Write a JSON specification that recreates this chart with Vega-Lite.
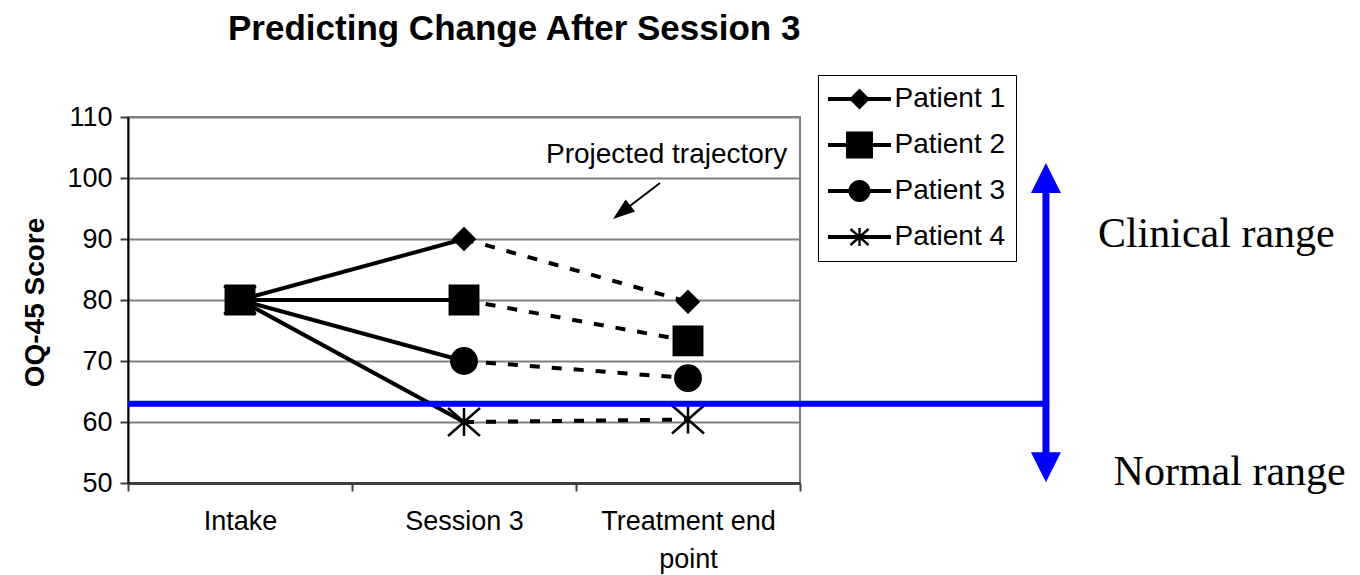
{
  "$schema": "https://vega.github.io/schema/vega-lite/v6.json",
  "width": 672,
  "height": 366,
  "autosize": {"type": "none"},
  "padding": {"left": 128, "top": 117, "right": 560, "bottom": 92},
  "background": "white",
  "title": {
    "text": "Predicting Change After Session 3",
    "anchor": "start",
    "frame": "group",
    "dx": 100,
    "offset": 0,
    "baseline": "alphabetic",
    "font": "Liberation Sans",
    "fontSize": 35,
    "fontWeight": "bold",
    "color": "black"
  },
  "config": {
    "font": "Liberation Sans",
    "view": {"stroke": "#808080", "strokeWidth": 2},
    "axis": {
      "labelFont": "Liberation Sans",
      "labelFontSize": 27,
      "labelColor": "black",
      "titleFont": "Liberation Sans",
      "titleFontSize": 28,
      "titleFontWeight": "bold",
      "titleColor": "black",
      "tickSize": 8,
      "tickColor": "#404040",
      "tickWidth": 2,
      "domainWidth": 2
    }
  },
  "resolve": {"scale": {"x": "independent"}},
  "layer": [
    {
      "data": {
        "values": [
          {"patient": "Patient 1", "time": "Intake", "score": 80},
          {"patient": "Patient 1", "time": "Session 3", "score": 90},
          {"patient": "Patient 1", "time": "Treatment end point", "score": 79.7},
          {"patient": "Patient 2", "time": "Intake", "score": 80},
          {"patient": "Patient 2", "time": "Session 3", "score": 80},
          {"patient": "Patient 2", "time": "Treatment end point", "score": 73.3},
          {"patient": "Patient 3", "time": "Intake", "score": 80},
          {"patient": "Patient 3", "time": "Session 3", "score": 70},
          {"patient": "Patient 3", "time": "Treatment end point", "score": 67.2},
          {"patient": "Patient 4", "time": "Intake", "score": 80},
          {"patient": "Patient 4", "time": "Session 3", "score": 60},
          {"patient": "Patient 4", "time": "Treatment end point", "score": 60.4}
        ]
      },
      "resolve": {"scale": {"shape": "independent"}},
      "layer": [
        {
          "transform": [{"filter": "datum.time !== 'Treatment end point'"}],
          "mark": {"type": "line", "color": "black", "strokeWidth": 4},
          "encoding": {
            "x": {"field": "time", "type": "nominal", "bandPosition": 0.5,
              "scale": {"type": "band", "domain": ["Intake", "Session 3", "Treatment end point"], "paddingInner": 0, "paddingOuter": 0},
              "axis": {
                "title": null, "labelAngle": 0, "grid": false, "tickBand": "extent",
                "labelPadding": 17, "labelLineHeight": 38, "domainColor": "#404040", "domainWidth": 3,
                "labelExpr": "datum.value === 'Treatment end point' ? ['Treatment end', 'point'] : datum.label"
              }
            },
            "y": {"field": "score", "type": "quantitative",
              "scale": {"domain": [50, 110], "nice": false, "zero": false},
              "axis": {
                "title": "OQ-45 Score", "values": [50, 60, 70, 80, 90, 100, 110], "grid": true,
                "gridColor": "#808080", "gridWidth": 2, "domainColor": "black", "domainWidth": 2,
                "labelPadding": 8, "titleX": -93, "titleY": 185, "titleBaseline": "middle", "titleAngle": -90
              }
            },
            "detail": {"field": "patient"}
          }
        },
        {
          "transform": [{"filter": "datum.time !== 'Intake'"}],
          "mark": {"type": "line", "color": "black", "strokeWidth": 4, "strokeDash": [10, 12]},
          "encoding": {
            "x": {"field": "time", "type": "nominal", "bandPosition": 0.5},
            "y": {"field": "score", "type": "quantitative"},
            "detail": {"field": "patient"}
          }
        },
        {
          "mark": {"type": "point", "filled": true, "fill": "black", "stroke": "black", "strokeWidth": 2.5, "size": 400, "opacity": 1},
          "encoding": {
            "x": {"field": "time", "type": "nominal", "bandPosition": 0.5},
            "y": {"field": "score", "type": "quantitative"},
            "shape": {
              "field": "patient", "type": "nominal",
              "scale": {
                "domain": ["Patient 1", "Patient 2", "Patient 3", "Patient 4"],
                "range": [
                  "M0,-1.05L1.05,0L0,1.05L-1.05,0Z",
                  "M-1.42,-1.42H1.42V1.42H-1.42Z",
                  "M-1.27,0A1.27,1.27,0,1,0,1.27,0A1.27,1.27,0,1,0,-1.27,0Z",
                  "M-1.6,-1.4L1.6,1.4M-1.6,1.4L1.6,-1.4M0,-1.4V1.4"
                ]
              },
              "legend": null
            }
          }
        },
        {
          "transform": [{"filter": "false"}],
          "mark": {"type": "point", "filled": true, "fill": "black", "strokeWidth": 0, "size": 400, "opacity": 1},
          "encoding": {
            "shape": {
              "field": "patient", "type": "nominal",
              "scale": {
                "domain": ["Patient 1", "Patient 2", "Patient 3", "Patient 4"],
                "range": [
                  "M-3.15,-0.2H3.15V0.2H-3.15ZM0,-1.05L1.05,0L0,1.05L-1.05,0Z",
                  "M-3.15,-0.2H3.15V0.2H-3.15ZM-1.35,-1.35H1.35V1.35H-1.35Z",
                  "M-3.15,-0.2H3.15V0.2H-3.15ZM-1.1,0A1.1,1.1,0,1,1,1.1,0A1.1,1.1,0,1,1,-1.1,0Z",
                  "M-3.15,-0.2H3.15V0.2H-3.15ZM-0.12,-0.9H0.12V0.9H-0.12ZM-0.98,-0.71L-0.82,-0.89L0.98,0.71L0.82,0.89ZM-0.82,0.89L-0.98,0.71L0.82,-0.89L0.98,-0.71Z"
                ]
              },
              "legend": {
                "title": null,
                "orient": "none",
                "legendX": 690,
                "legendY": -42,
                "padding": 10,
                "strokeColor": "black",
                "fillColor": "white",
                "labelFont": "Liberation Sans",
                "labelFontSize": 28,
                "labelColor": "black",
                "symbolSize": 400,
                "symbolOffset": 17.5,
                "labelOffset": 21,
                "rowPadding": 18,
                "symbolFillColor": "black",
                "symbolStrokeWidth": 0
              }
            }
          }
        }
      ]
    },
    {
      "data": {"values": [{}]},
      "layer": [
        {
          "mark": {"type": "rule", "color": "#0000FF", "strokeWidth": 6},
          "encoding": {
            "x": {"datum": 0, "type": "quantitative", "scale": {"domain": [0, 3], "nice": false, "zero": false}, "axis": null},
            "x2": {"datum": 4.098},
            "y": {"datum": 63, "type": "quantitative", "scale": {"domain": [50, 110], "nice": false, "zero": false}}
          }
        },
        {
          "mark": {"type": "rule", "color": "#0000FF", "strokeWidth": 7},
          "encoding": {
            "x": {"datum": 4.098, "type": "quantitative", "axis": null},
            "y": {"datum": 52.6, "type": "quantitative"},
            "y2": {"datum": 100}
          }
        },
        {
          "mark": {"type": "point", "shape": "M0,-1L-1,1L1,1Z", "size": 900, "filled": true, "fill": "#0000FF", "strokeWidth": 0, "opacity": 1},
          "encoding": {
            "x": {"datum": 4.098, "type": "quantitative", "axis": null},
            "y": {"datum": 100, "type": "quantitative"}
          }
        },
        {
          "mark": {"type": "point", "shape": "M0,1L-1,-1L1,-1Z", "size": 900, "filled": true, "fill": "#0000FF", "strokeWidth": 0, "opacity": 1},
          "encoding": {
            "x": {"datum": 4.098, "type": "quantitative", "axis": null},
            "y": {"datum": 52.6, "type": "quantitative"}
          }
        },
        {
          "mark": {"type": "text", "text": "Clinical range", "font": "Liberation Serif", "fontSize": 42, "align": "left", "baseline": "alphabetic", "color": "black"},
          "encoding": {
            "x": {"datum": 4.33, "type": "quantitative", "axis": null},
            "y": {"datum": 88.7, "type": "quantitative"}
          }
        },
        {
          "mark": {"type": "text", "text": "Normal range", "font": "Liberation Serif", "fontSize": 42, "align": "left", "baseline": "alphabetic", "color": "black"},
          "encoding": {
            "x": {"datum": 4.4, "type": "quantitative", "axis": null},
            "y": {"datum": 49.7, "type": "quantitative"}
          }
        },
        {
          "mark": {"type": "text", "text": "Projected trajectory", "font": "Liberation Sans", "fontSize": 28, "align": "left", "baseline": "alphabetic", "color": "black"},
          "encoding": {
            "x": {"datum": 1.866, "type": "quantitative", "axis": null},
            "y": {"datum": 102.5, "type": "quantitative"}
          }
        },
        {
          "mark": {"type": "rule", "color": "black", "strokeWidth": 2},
          "encoding": {
            "x": {"datum": 2.375, "type": "quantitative", "axis": null},
            "x2": {"datum": 2.204},
            "y": {"datum": 99.18, "type": "quantitative"},
            "y2": {"datum": 94.39}
          }
        },
        {
          "mark": {"type": "point", "shape": "M0,-1L-0.7,1L0.7,1Z", "size": 484, "angle": 232, "filled": true, "fill": "black", "strokeWidth": 0, "opacity": 1},
          "encoding": {
            "x": {"datum": 2.204, "type": "quantitative", "axis": null},
            "y": {"datum": 94.39, "type": "quantitative"}
          }
        }
      ]
    }
  ]
}
